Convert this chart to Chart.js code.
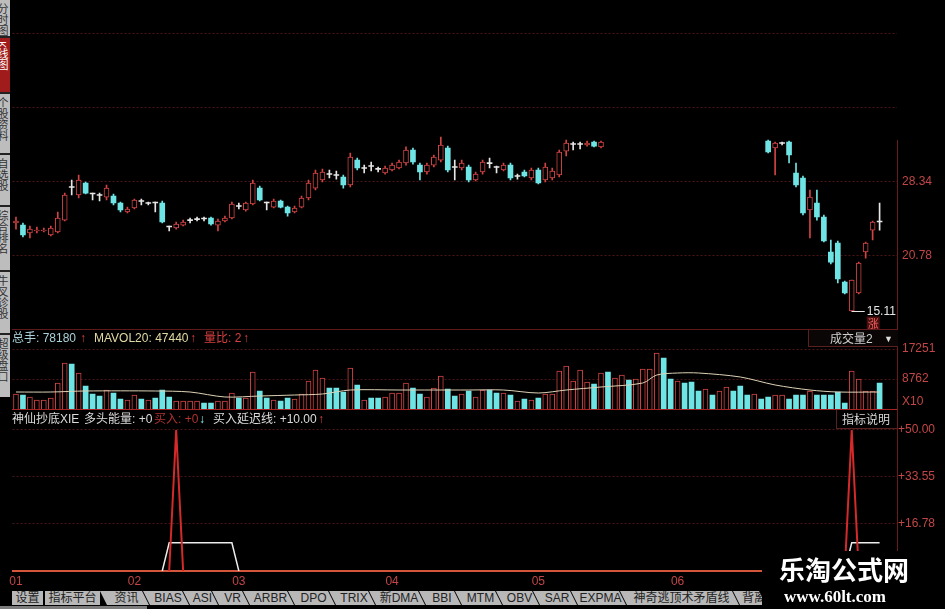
<!DOCTYPE html>
<html>
<head>
<meta charset="utf-8">
<script src="https://cdn.jsdelivr.net/npm/chart.js@4.4.0/dist/chart.umd.min.js"></script>
<style>
body { margin: 0; background: #000; }
#wrap { position: relative; width: 945px; height: 609px; overflow: hidden; background: #000;
        font-family: "Liberation Sans", "Noto Sans CJK SC", sans-serif; font-size: 12px; }
canvas { position: absolute; left: 0; }
.t { position: absolute; white-space: nowrap; line-height: 14px; }
.strip { position: absolute; left: 0; top: 0; width: 10px; height: 397px; background: #222; overflow: hidden; }
.vtab { position: absolute; left: 0; width: 10px; background: #bdbdbd; overflow: hidden; }
.vtab span { position: absolute; left: -4px; top: 3px; writing-mode: vertical-rl; font-size: 11px; line-height: 12px; color: #333; }
.btab { position: absolute; top: 591px; height: 14px; background: #b8b8b8; color: #222; font-size: 12px;
        line-height: 14px; text-align: center; overflow: hidden; }
.slant { clip-path: polygon(0 0, calc(100% - 8px) 0, calc(100% - 1px) 100%, 7px 100%); padding-left: 3px; box-sizing: border-box; }
.line { position: absolute; }
</style>
</head>
<body>
<div id="wrap">
<canvas id="priceChart" width="945" height="330" style="top:0"></canvas>
<canvas id="volChart" width="945" height="80" style="top:330px"></canvas>
<canvas id="indChart" width="945" height="180" style="top:410px"></canvas>

<div class="line" style="left:12px;top:329px;width:885px;height:1px;background:#5e1a1a"></div>
<div class="line" style="left:12px;top:409px;width:885px;height:1px;background:#a82424"></div>
<div class="line" style="left:897px;top:140px;width:1px;height:190px;background:#6a1c1c"></div>
<div class="line" style="left:897px;top:410px;width:1px;height:16px;background:#6a1c1c"></div>

<!-- left side tabs -->
<div class="strip">
  <div class="vtab" style="top:0;height:36px"><span>分时图</span></div>
  <div class="vtab" style="top:38px;height:54px;background:#a01c1c"><span style="color:#fff">K线图</span></div>
  <div class="vtab" style="top:94px;height:59px"><span>个股资料</span></div>
  <div class="vtab" style="top:155px;height:50px"><span>自选股</span></div>
  <div class="vtab" style="top:207px;height:63px"><span>综合排名</span></div>
  <div class="vtab" style="top:272px;height:61px"><span>牛叉诊股</span></div>
  <div class="vtab" style="top:335px;height:62px"><span>超级盘口</span></div>
</div>

<!-- volume header -->
<div class="t" style="left:12px;top:331px;color:#a9d2d8">总手: 78180</div>
<div class="t" style="left:80px;top:331px;color:#e04040">↑</div>
<div class="t" style="left:94px;top:331px;color:#e2d9a2">MAVOL20: 47440</div>
<div class="t" style="left:190px;top:331px;color:#e04040">↑</div>
<div class="t" style="left:204px;top:331px;color:#d84040">量比: 2</div>
<div class="t" style="left:243px;top:331px;color:#e04040">↑</div>
<div class="t" style="left:808px;top:330px;width:89px;height:16px;border-left:1px solid #5a2020;border-bottom:1px solid #5a2020;background:#0a0606"></div>
<div class="t" style="left:830px;top:332px;color:#cfcfcf">成交量2</div>
<div class="t" style="left:884px;top:332px;color:#ddd;font-size:9px">▼</div>
<div class="t" style="left:902px;top:394px;color:#c24646">X10</div>

<!-- indicator header -->
<div class="t" style="left:12px;top:412px;color:#dcdcdc">神仙抄底XIE</div>
<div class="t" style="left:84px;top:412px;color:#dcdcdc">多头能量: +0</div>
<div class="t" style="left:154px;top:412px;color:#b03232">买入: +0</div>
<div class="t" style="left:199px;top:412px;color:#8ff0f0">↓</div>
<div class="t" style="left:213px;top:412px;color:#dcdcdc">买入延迟线: +10.00</div>
<div class="t" style="left:318px;top:412px;color:#e04040">↑</div>
<div class="t" style="left:836px;top:410px;width:61px;height:18px;border-left:1px solid #5a2020;border-bottom:1px solid #5a2020"></div>
<div class="t" style="left:842px;top:413px;color:#d8d8d8">指标说明</div>

<!-- bottom tabs -->
<div class="btab" style="left:12px;width:31px">设置</div>
<div class="btab" style="left:45px;width:55px">指标平台</div>
<div class="btab slant" style="left:100px;width:50px">资讯</div>
<div class="btab slant" style="left:143px;width:47px">BIAS</div>
<div class="btab slant" style="left:183px;width:36px">ASI</div>
<div class="btab slant" style="left:212px;width:38px">VR</div>
<div class="btab slant" style="left:243px;width:52px">ARBR</div>
<div class="btab slant" style="left:288px;width:48px">DPO</div>
<div class="btab slant" style="left:329px;width:47px">TRIX</div>
<div class="btab slant" style="left:369px;width:57px">新DMA</div>
<div class="btab slant" style="left:419px;width:43px">BBI</div>
<div class="btab slant" style="left:455px;width:48px">MTM</div>
<div class="btab slant" style="left:496px;width:44px">OBV</div>
<div class="btab slant" style="left:533px;width:45px">SAR</div>
<div class="btab slant" style="left:571px;width:56px">EXPMA</div>
<div class="btab slant" style="left:620px;width:120px">神奇逃顶术矛盾线</div>
<div class="btab slant" style="left:733px;width:34px;text-align:left;padding-left:9px">背离</div>
<div class="line" style="left:0;top:606px;width:147px;height:3px;background:#7c7c7c"></div>

<!-- watermark -->
<div class="line" style="left:762px;top:551px;width:183px;height:58px;background:#000"></div>
<div class="t" style="left:779px;top:555px;color:#fff;font-size:26px;line-height:28px;font-weight:bold;font-family:'Noto Sans CJK SC'">乐淘公式网</div>
<div class="t" style="left:784px;top:588px;color:#fff;font-size:17px;line-height:18px;font-weight:bold;font-family:'Liberation Serif'">www.60lt.com</div>
</div>

<script>
// month markers along the date axis
var monthLabels = ['01', '02', '03', '04', '05', '06'];
var monthIdx = [0, 17, 32, 54, 75, 95];
var slotCount = 127;

// daily candles (gap = no data shown)
var open = [
  24.15,23.94,23.13,23.33,23.33,22.92,23.23,24.45,27.78,27.01,
  28.24,27.11,26.96,26.80,26.91,26.19,25.27,25.68,26.35,26.14,
  26.19,26.19,23.74,23.64,23.94,24.40,24.50,24.56,24.66,23.94,
  24.35,24.66,25.84,25.48,26.09,27.72,26.19,25.78,26.40,25.78,
  25.27,25.78,26.70,27.72,28.54,29.10,29.00,28.85,28.03,30.58,
  29.72,29.92,29.62,29.26,29.56,29.77,30.28,31.61,30.07,29.36,
  30.07,30.58,31.81,29.82,29.77,29.87,28.54,29.36,30.22,29.82,
  29.56,30.07,28.90,29.36,28.75,29.56,28.54,28.75,29.05,31.50,
  32.17,32.17,32.12,32.42,31.92,
  null,null,null,null,null,null,null,null,null,null,null,null,null,null,null,null,null,null,null,null,null,null,null,
  32.53,31.82,32.27,32.42,29.26,28.75,25.48,26.19,24.76,21.19,
  22.11,18.12,15.16,17.00,21.19,23.43,24.25
];
var high = [
  24.76,24.15,23.84,23.74,23.64,23.84,25.27,27.21,28.54,29.05,
  28.34,27.21,27.21,28.03,27.11,26.29,25.78,26.60,26.60,26.29,
  26.29,26.40,23.84,24.25,24.45,24.66,24.76,24.76,24.76,24.56,
  24.86,26.29,26.19,26.29,28.54,27.93,26.29,26.60,26.50,25.89,
  25.89,26.91,28.54,29.56,29.67,29.56,29.46,29.05,31.30,30.79,
  30.07,30.38,29.87,29.97,30.28,30.58,31.92,31.81,30.28,30.28,
  31.10,32.93,32.01,30.58,30.58,30.07,29.36,30.58,30.79,29.97,
  30.28,30.28,29.15,29.56,29.77,29.77,30.28,29.77,31.61,32.63,
  32.42,32.42,32.53,32.53,32.53,
  null,null,null,null,null,null,null,null,null,null,null,null,null,null,null,null,null,null,null,null,null,null,null,
  32.63,32.42,32.42,32.53,30.28,28.95,27.52,27.52,24.97,22.41,
  22.31,18.22,18.33,20.16,22.21,24.35,26.19
];
var low = [
  23.53,22.72,22.62,23.13,23.23,22.82,23.13,24.35,27.01,26.70,
  27.11,26.50,26.40,26.50,25.99,25.27,25.17,25.58,25.99,25.99,
  25.27,24.15,23.33,23.53,23.84,24.15,24.35,24.35,23.94,23.33,
  24.25,24.56,25.58,25.37,25.99,26.40,25.48,25.68,25.68,24.86,
  25.17,25.68,26.50,27.52,28.34,28.75,28.64,27.72,27.83,29.56,
  29.26,29.46,29.36,29.15,29.46,29.67,30.07,30.17,28.54,29.15,
  29.87,30.38,29.36,28.54,29.56,28.34,28.44,29.15,29.77,29.26,
  29.46,28.54,28.64,28.85,28.54,28.13,28.34,28.54,28.85,31.00,
  31.61,31.71,32.01,31.92,31.81,
  null,null,null,null,null,null,null,null,null,null,null,null,null,null,null,null,null,null,null,null,null,null,null,
  31.30,29.05,32.12,30.28,27.83,24.97,22.62,24.45,22.21,19.96,
  18.02,16.90,15.11,16.90,20.57,22.41,23.43
];
var close = [
  24.35,22.92,23.54,23.43,23.43,23.64,24.66,27.01,27.78,28.54,
  27.21,27.11,26.96,27.72,26.19,25.48,25.58,26.50,26.35,26.14,
  26.19,24.25,23.74,24.05,24.25,24.40,24.50,24.56,24.05,24.35,
  24.66,26.09,25.84,26.19,28.24,26.50,26.19,26.40,25.78,25.17,
  25.68,26.70,28.24,29.26,29.36,29.10,29.00,28.03,30.89,29.77,
  29.72,29.92,29.62,29.77,30.07,30.38,31.61,30.38,29.36,30.07,
  30.89,32.12,29.56,29.82,30.28,28.54,29.15,30.38,30.22,29.82,
  30.07,28.75,28.90,28.95,29.56,28.24,29.87,29.46,31.40,32.32,
  32.17,32.17,32.32,32.01,32.42,
  null,null,null,null,null,null,null,null,null,null,null,null,null,null,null,null,null,null,null,null,null,null,null,
  31.40,32.32,32.27,31.10,28.03,25.17,26.80,24.76,22.31,20.16,
  18.43,17.00,18.33,20.06,22.11,24.25,24.25
];
var priceTicks = [20.78, 28.34, 35.90, 43.46];
var priceLabels = [20.78, 28.34];

// volume (x10) and day direction
var volume = [
  4530,4245,3680,2830,2830,3400,7640,13300,13020,10470,
  6790,4530,3960,5660,4810,3110,2830,4245,3110,2830,
  3400,5660,3680,2550,2550,2550,2550,1980,1980,2550,
  2550,4810,3400,3400,10750,5380,3400,2830,2550,3400,
  3110,4530,8210,11320,9060,6230,6230,5090,11890,7080,
  2830,3400,3400,3680,4810,4810,7640,6230,4530,3680,
  6230,9620,5940,3960,4530,5380,3680,5660,5660,4810,
  4810,4245,2550,3110,2830,3400,4530,4530,11040,12450,
  8210,11320,7920,7360,10470,10750,9060,9910,8490,8770,
  11600,11600,16130,14720,8770,8210,7640,7920,5380,5940,
  4245,5380,6510,5380,6790,4245,4530,3110,3680,4245,
  4245,3110,4245,4245,5380,4245,4245,4245,5090,1980,
  11040,8770,5380,5380,7640
];
var volUp = [
  1,0,1,1,1,1,1,1,0,1, 0,0,0,1,0,0,1,1,0,1,
  0,0,0,1,1,1,1,0,0,1, 1,1,0,1,1,0,0,1,0,0,
  1,1,1,1,1,0,0,0,1,0, 1,0,0,1,1,1,1,0,0,1,
  1,1,0,0,1,0,1,1,0,0, 1,0,1,0,1,0,1,1,1,1,
  1,1,1,0,1,0,1,1,0,1, 1,1,1,0,0,1,0,0,0,1,
  0,1,1,0,0,0,1,0,0,1, 1,0,0,0,1,0,0,0,0,0,
  1,1,1,1,0
];
var volTicks = [8762, 17251];
var maIdx = [0, 5, 10, 20, 25, 30, 35, 40, 44, 48, 55, 65, 70, 75, 79, 84, 90, 92, 95, 98, 104, 109, 114, 118, 124];
var maVal = [5090, 5090, 5380, 5380, 5090, 3680, 3960, 4245, 4530, 5660, 5660, 5660, 5660, 4810, 5660, 6510, 7640, 9900, 10470, 10470, 9340, 7080, 5660, 5090, 5090];

// 神仙抄底XIE indicator
var buyIdx = [22, 23, 24, 119, 120, 121];
var buyVal = [0, 50, 0, 0, 50, 0];
var delayIdx = [21, 22, 23, 24, 25, 26, 27, 28, 29, 30, 31, 32, 119, 120, 121, 122, 123, 124];
var delayVal = [0, 10, 10, 10, 10, 10, 10, 10, 10, 10, 10, 0, 0, 10, 10, 10, 10, 10];
var indTicks = [16.78, 33.55, 50];

var RED = '#d24343', CYAN = '#6fe4e4', WHITE = '#e6e6e6';
var AXIS = '#c24646', GRID = '#4d1515', EDGE = '#6a1c1c';

Chart.defaults.font.family = '"Liberation Sans", "Noto Sans CJK SC", sans-serif';
Chart.defaults.font.size = 12;

var labels = [];
for (var i = 0; i < slotCount; i++) labels.push('');
monthIdx.forEach(function(k, j) { labels[k] = monthLabels[j]; });

function sparse(idx, val) {
  var out = labels.map(function() { return null; });
  idx.forEach(function(k, j) { out[k] = val[j]; });
  return out;
}

var candleColor = open.map(function(o, i) {
  if (o === null) return 'rgba(0,0,0,0)';
  return close[i] > o ? RED : (close[i] < o ? CYAN : WHITE);
});
var bodyFill = open.map(function(o, i) { return (o !== null && close[i] > o) ? '#000' : candleColor[i]; });
var bodyBorder = open.map(function(o, i) { return (o !== null && close[i] > o) ? 1 : 0; });
var bodies = open.map(function(o, i) { return o === null ? null : [o, close[i]]; });
var wicks = low.map(function(l, i) { return l === null ? null : [l, high[i]]; });

function rightAxis(w) {
  return function(s) { s.width = w; s.paddingTop = 0; s.paddingBottom = 0; };
}

var lowMarker = {
  id: 'lowMarker',
  afterDatasetsDraw: function(chart) {
    var k = -1;
    low.forEach(function(v, i) { if (v !== null && (k < 0 || v < low[k])) k = i; });
    var x = chart.scales.x.getPixelForValue(k), y = chart.scales.y.getPixelForValue(low[k]);
    var ctx = chart.ctx;
    ctx.save();
    ctx.strokeStyle = WHITE; ctx.lineWidth = 1;
    ctx.beginPath(); ctx.moveTo(x, Math.round(y) + 0.5); ctx.lineTo(x + 13, Math.round(y) + 0.5); ctx.stroke();
    ctx.fillStyle = WHITE; ctx.textBaseline = 'middle';
    ctx.font = '12px "Liberation Sans"';
    ctx.fillText(low[k].toFixed(2), x + 15, y);
    ctx.fillStyle = '#4a0e0e'; ctx.fillRect(x + 15, y + 5, 13, 13);
    ctx.fillStyle = '#f06060'; ctx.font = '11px "Noto Sans CJK SC"';
    ctx.fillText('涨', x + 16, y + 12);
    ctx.restore();
  }
};

new Chart(document.getElementById('priceChart'), {
  type: 'bar',
  data: {
    labels: labels,
    datasets: [{
      label: 'K线',
      data: bodies,
      backgroundColor: bodyFill,
      borderColor: candleColor,
      borderWidth: bodyBorder,
      borderSkipped: false,
      barThickness: 5,
      minBarLength: 1,
      grouped: false
    }, {
      label: '影线',
      data: wicks,
      backgroundColor: candleColor,
      borderWidth: 0,
      barThickness: 1,
      minBarLength: 1,
      grouped: false
    }]
  },
  options: {
    responsive: false,
    animation: false,
    layout: { padding: { left: 12.5, right: 0, top: 0, bottom: 0 } },
    plugins: { legend: { display: false }, tooltip: { enabled: false } },
    scales: {
      x: { display: false, offset: true },
      y: {
        position: 'right', min: 13.22, max: 46.93,
        afterBuildTicks: function(s) { s.ticks = priceTicks.map(function(v) { return { value: v }; }); },
        afterFit: rightAxis(48),
        ticks: {
          color: AXIS, padding: 5,
          callback: function(v) { return priceLabels.indexOf(v) >= 0 ? v.toFixed(2) : ''; }
        },
        grid: { color: GRID, drawTicks: false },
        border: { display: false, color: EDGE, dash: [2, 2] }
      }
    }
  },
  plugins: [lowMarker]
});

new Chart(document.getElementById('volChart'), {
  type: 'bar',
  data: {
    labels: labels,
    datasets: [{
      type: 'line',
      label: 'MAVOL20',
      data: sparse(maIdx, maVal),
      borderColor: '#ddd2b6',
      borderWidth: 1,
      pointRadius: 0,
      spanGaps: true,
      tension: 0.3
    }, {
      label: '成交量',
      data: volume,
      backgroundColor: volUp.map(function(u) { return u ? '#000' : CYAN; }),
      borderColor: volUp.map(function(u) { return u ? RED : CYAN; }),
      borderWidth: volUp.map(function(u) { return u ? 1 : 0; }),
      borderSkipped: false,
      barThickness: 5
    }]
  },
  options: {
    responsive: false,
    animation: false,
    layout: { padding: { left: 12.5, right: 0, top: 0, bottom: 0 } },
    plugins: { legend: { display: false }, tooltip: { enabled: false } },
    scales: {
      x: { display: false, offset: true },
      y: {
        position: 'right', min: 0, max: 22640,
        afterBuildTicks: function(s) { s.ticks = volTicks.map(function(v) { return { value: v }; }); },
        afterFit: rightAxis(48),
        ticks: { color: AXIS, padding: 5, callback: function(v) { return String(v); } },
        grid: { color: GRID, drawTicks: false },
        border: { color: EDGE, dash: [2, 2] }
      }
    }
  }
});

new Chart(document.getElementById('indChart'), {
  type: 'line',
  data: {
    labels: labels,
    datasets: [{
      label: '买入',
      data: sparse(buyIdx, buyVal),
      borderColor: '#d42a2a',
      borderWidth: 2,
      pointRadius: 0,
      spanGaps: false,
      tension: 0
    }, {
      label: '买入延迟线',
      data: sparse(delayIdx, delayVal),
      borderColor: '#ececec',
      borderWidth: 1.5,
      pointRadius: 0,
      spanGaps: false,
      tension: 0
    }]
  },
  options: {
    responsive: false,
    animation: false,
    layout: { padding: { left: 12.5, right: 0, top: 15, bottom: 0 } },
    plugins: { legend: { display: false }, tooltip: { enabled: false } },
    scales: {
      x: {
        offset: true,
        afterFit: function(s) { s.height = 19; s.paddingLeft = 0; s.paddingRight = 0; },
        ticks: { color: AXIS, padding: 3, autoSkip: false, maxRotation: 0 },
        grid: { display: false, drawTicks: false },
        border: { display: true, color: '#d4563a', width: 2 }
      },
      y: {
        position: 'right', min: 0, max: 51.77,
        afterBuildTicks: function(s) { s.ticks = indTicks.map(function(v) { return { value: v }; }); },
        afterFit: rightAxis(48),
        ticks: { color: AXIS, padding: 1, callback: function(v) { return '+' + v.toFixed(2); } },
        grid: { color: GRID, drawTicks: false },
        border: { color: EDGE, dash: [2, 2] }
      }
    }
  }
});
</script>
</body>
</html>
